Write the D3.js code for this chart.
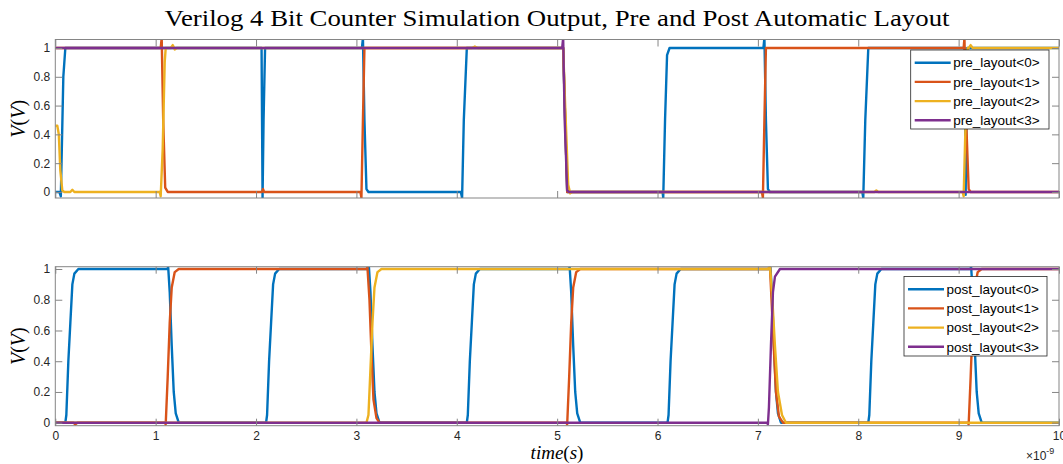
<!DOCTYPE html>
<html>
<head>
<meta charset="utf-8">
<script src="https://cdn.jsdelivr.net/npm/d3@7"></script>
<style>
  body { margin: 0; background: #fff; }
  svg { display: block; }
</style>
</head>
<body>
<svg id="chart" width="1063" height="464"></svg>
<script>
// ---- data (time in ns, voltage in V) ----
const timeTicks = [0, 1, 2, 3, 4, 5, 6, 7, 8, 9, 10];
const voltTicks = [0, 0.2, 0.4, 0.6, 0.8, 1];
const voltTickLabels = ['0', '0.2', '0.4', '0.6', '0.8', '1'];

const preNames = ['pre_layout<0>', 'pre_layout<1>', 'pre_layout<2>', 'pre_layout<3>'];
const postNames = ['post_layout<0>', 'post_layout<1>', 'post_layout<2>', 'post_layout<3>'];

const pre0 = [[0, 0], [0.04, 0], [0.055, -0.03], [0.065, 0.3], [0.08, 0.8], [0.1, 1],
  [2.055, 1], [2.065, -0.04], [2.075, 0.5], [2.09, 1],
  [3.055, 1], [3.065, 1.07], [3.08, 0.5], [3.1, 0.02], [3.12, 0],
  [4.04, 0], [4.053, -0.04], [4.07, 0.5], [4.1, 1],
  [5.06, 1], [5.08, 0.5], [5.1, 0],
  [6.05, 0], [6.057, -0.04], [6.075, 0.5], [6.095, 0.95], [6.12, 1],
  [7.055, 1], [7.065, 1.07], [7.08, 0.5], [7.1, 0.02], [7.12, 0],
  [8.04, 0], [8.05, -0.04], [8.07, 0.5], [8.1, 1],
  [9.06, 1], [9.07, -0.02], [9.085, 1], [10, 1]];
const pre1 = [[0, 1], [1.05, 1], [1.06, 1.07], [1.075, 0.5], [1.095, 0.03], [1.12, 0],
  [2.06, 0], [2.07, 0.02], [2.08, 0],
  [3.04, 0], [3.05, -0.04], [3.065, 0.5], [3.08, 1],
  [5.06, 1], [5.08, 0.5], [5.1, 0],
  [7.04, 0], [7.05, -0.04], [7.065, 0.5], [7.08, 1],
  [9.05, 1], [9.058, 1.07], [9.075, 0.5], [9.1, 0.02], [9.12, 0], [10, 0]];
const pre2 = [[0, 0.46], [0.02, 0.46], [0.035, 0.4], [0.05, 0.15], [0.07, 0.01], [0.09, 0],
  [0.15, 0], [0.17, 0.015], [0.19, 0],
  [1.04, 0], [1.05, -0.03], [1.07, 0.3], [1.09, 0.9], [1.1, 1],
  [1.15, 1], [1.17, 1.02], [1.19, 0.99], [1.21, 1],
  [4.15, 1], [4.18, 1.01], [4.21, 1],
  [5.06, 1], [5.08, 0.6], [5.11, 0.05], [5.13, -0.01], [5.15, 0],
  [8.16, 0], [8.18, 0.01], [8.2, 0],
  [9.04, 0], [9.05, -0.03], [9.07, 0.5], [9.09, 1],
  [9.1, 1], [9.12, 1.02], [9.14, 1], [10, 1]];
const pre3 = [[0, 1], [5.05, 1], [5.06, 1.07], [5.075, 0.5], [5.1, 0.01], [5.12, 0], [10, 0]];

const post0 = [[0, 0], [0.1, 0], [0.11, 0.05], [0.13, 0.4], [0.15, 0.65], [0.17, 0.9], [0.19, 0.97], [0.23, 1],
  [1.11, 1], [1.125, 1.01], [1.14, 0.85], [1.16, 0.5], [1.18, 0.2], [1.2, 0.06], [1.23, 0],
  [2.1, 0], [2.11, 0.05], [2.13, 0.4], [2.15, 0.65], [2.17, 0.9], [2.19, 0.97], [2.23, 1],
  [3.11, 1], [3.125, 1.01], [3.14, 0.85], [3.16, 0.5], [3.18, 0.2], [3.2, 0.06], [3.23, 0],
  [4.1, 0], [4.11, 0.05], [4.13, 0.4], [4.15, 0.65], [4.17, 0.9], [4.19, 0.97], [4.23, 1],
  [5.11, 1], [5.125, 1.01], [5.14, 0.85], [5.16, 0.5], [5.18, 0.2], [5.2, 0.06], [5.23, 0],
  [6.1, 0], [6.11, 0.05], [6.13, 0.4], [6.15, 0.65], [6.17, 0.9], [6.19, 0.97], [6.23, 1],
  [7.11, 1], [7.125, 1.01], [7.14, 0.85], [7.16, 0.5], [7.18, 0.2], [7.2, 0.06], [7.23, 0],
  [8.1, 0], [8.11, 0.05], [8.13, 0.4], [8.15, 0.65], [8.17, 0.9], [8.19, 0.97], [8.23, 1],
  [9.11, 1], [9.125, 1.01], [9.14, 0.85], [9.16, 0.5], [9.18, 0.2], [9.2, 0.06], [9.23, 0], [10, 0]];
const post1 = [[0, 0], [0.18, 0], [0.2, -0.01], [0.22, 0],
  [1.09, 0], [1.1, -0.01], [1.12, 0.3], [1.14, 0.65], [1.16, 0.88], [1.19, 0.98], [1.23, 1],
  [3.1, 1], [3.11, 1.01], [3.13, 0.8], [3.15, 0.45], [3.17, 0.15], [3.2, 0.03], [3.23, 0],
  [5.09, 0], [5.1, -0.01], [5.12, 0.3], [5.14, 0.65], [5.16, 0.88], [5.19, 0.98], [5.23, 1],
  [7.11, 1], [7.12, 1.02], [7.15, 0.6], [7.18, 0.2], [7.21, 0.04], [7.25, 0],
  [9.09, 0], [9.1, -0.01], [9.12, 0.3], [9.14, 0.65], [9.16, 0.88], [9.19, 0.98], [9.23, 1], [10, 1]];
const post2 = [[0, 0], [3.1, 0], [3.12, 0.05], [3.14, 0.35], [3.16, 0.65], [3.18, 0.88], [3.21, 0.98], [3.25, 1],
  [7.1, 1], [7.12, 1.02], [7.14, 0.85], [7.17, 0.5], [7.2, 0.2], [7.24, 0.05], [7.28, 0], [10, 0]];
const post3 = [[0, 0], [7.09, 0], [7.1, -0.01], [7.11, 0.1], [7.13, 0.5], [7.15, 0.85], [7.17, 0.95], [7.22, 1], [10, 1]];

const preSeries = [pre0, pre1, pre2, pre3];
const postSeries = [post0, post1, post2, post3];

// ---- styling ----
const colors = ['#0072BD', '#D95319', '#EDB120', '#7E2F8E'];
const axisColor = '#262626';
const boxColor = '#858585';
const sansFont = '"Liberation Sans", Arial, sans-serif';
const serifFont = '"Liberation Serif", "DejaVu Serif", serif';

const svg = d3.select('#chart');
const left = 55.3, right = 1059;

const x = d3.scaleLinear().domain([0, 10]).range([left, right]);

svg.append('text')
  .attr('x', 557)
  .attr('y', 26)
  .attr('text-anchor', 'middle')
  .attr('textLength', 785)
  .attr('lengthAdjust', 'spacingAndGlyphs')
  .style('font-family', serifFont)
  .style('font-size', '24px')
  .style('fill', '#000')
  .text('Verilog 4 Bit Counter Simulation Output, Pre and Post Automatic Layout');

function drawPanel(id, series, names, top, bottom, yDomain, legendBox, showXLabels) {
  const y = d3.scaleLinear().domain(yDomain).range([bottom, top]);
  const g = svg.append('g');

  g.append('defs').append('clipPath').attr('id', 'clip-' + id)
    .append('rect')
    .attr('x', left).attr('y', top)
    .attr('width', right - left).attr('height', bottom - top);

  const line = d3.line()
    .x(d => x(d[0]))
    .y(d => y(d[1]));

  g.append('g')
    .attr('clip-path', `url(#clip-${id})`)
    .selectAll('path')
    .data(series)
    .join('path')
    .attr('d', line)
    .attr('fill', 'none')
    .attr('stroke', (d, i) => colors[i])
    .attr('stroke-width', 2.4)
    .attr('stroke-linejoin', 'round');

  // box
  g.append('rect')
    .attr('x', left).attr('y', top)
    .attr('width', right - left).attr('height', bottom - top)
    .attr('fill', 'none')
    .attr('stroke', boxColor)
    .attr('stroke-width', 1);

  const styleAxis = sel => {
    sel.select('.domain').remove();
    sel.selectAll('.tick line').attr('stroke', boxColor);
    sel.selectAll('.tick text')
      .style('font-family', sansFont)
      .style('font-size', '12px')
      .attr('fill', axisColor);
  };

  g.append('g')
    .attr('transform', `translate(${left},0)`)
    .call(d3.axisLeft(y).tickValues(voltTicks).tickSize(-7).tickPadding(5)
      .tickFormat((d, i) => voltTickLabels[i]))
    .call(styleAxis);

  g.append('g')
    .attr('transform', `translate(${right},0)`)
    .call(d3.axisRight(y).tickValues(voltTicks).tickSize(-7).tickFormat(''))
    .call(styleAxis);

  g.append('g')
    .attr('transform', `translate(0,${bottom})`)
    .call(d3.axisBottom(x).tickValues(timeTicks).tickSize(-7).tickPadding(6)
      .tickFormat(showXLabels ? d3.format('d') : ''))
    .call(styleAxis);

  g.append('g')
    .attr('transform', `translate(0,${top})`)
    .call(d3.axisTop(x).tickValues(timeTicks).tickSize(-7).tickFormat(''))
    .call(styleAxis);

  // y label V(V)
  const yl = g.append('text')
    .attr('transform', `translate(25,${(top + bottom) / 2}) rotate(-90)`)
    .attr('text-anchor', 'middle')
    .style('font-family', serifFont)
    .style('font-size', '20px')
    .attr('fill', '#000');
  yl.append('tspan').style('font-style', 'italic').text('V');
  yl.append('tspan').text('(');
  yl.append('tspan').style('font-style', 'italic').text('V');
  yl.append('tspan').text(')');

  // legend
  const lg = g.append('g');
  lg.append('rect')
    .attr('x', legendBox.x).attr('y', legendBox.y)
    .attr('width', legendBox.w).attr('height', legendBox.h)
    .attr('fill', '#fff')
    .attr('stroke', axisColor)
    .attr('stroke-width', 0.8);
  const rows = lg.selectAll('g.row')
    .data(names)
    .join('g')
    .attr('class', 'row')
    .attr('transform', (d, i) => `translate(${legendBox.x},${legendBox.y + 12.7 + i * 19.2})`);
  rows.append('line')
    .attr('x1', 4).attr('x2', 40)
    .attr('stroke', (d, i) => colors[i])
    .attr('stroke-width', 2.4);
  rows.append('text')
    .attr('x', 42.5)
    .attr('dy', '0.35em')
    .style('font-family', sansFont)
    .style('font-size', '13.5px')
    .attr('fill', '#000')
    .text(d => d);
}

drawPanel('pre', preSeries, preNames, 39.5, 198, [-0.042, 1.059],
  { x: 910.7, y: 50, w: 138.3, h: 79 }, false);
drawPanel('post', postSeries, postNames, 266.7, 425.7, [-0.0195, 1.015],
  { x: 904, y: 276.5, w: 143, h: 79.5 }, true);

// x label
const xl = svg.append('text')
  .attr('x', 557)
  .attr('y', 459)
  .attr('text-anchor', 'middle')
  .style('font-family', serifFont)
  .style('font-size', '19px')
  .attr('fill', '#000');
xl.append('tspan').style('font-style', 'italic').text('time');
xl.append('tspan').text('(');
xl.append('tspan').style('font-style', 'italic').text('s');
xl.append('tspan').text(')');

// exponent marker
const ex = svg.append('text')
  .attr('x', 1026)
  .attr('y', 460)
  .style('font-family', sansFont)
  .style('font-size', '12px')
  .attr('fill', axisColor);
ex.append('tspan').text('\u00d710');
ex.append('tspan').attr('dy', -6).style('font-size', '9px').text('-9');
</script>
</body>
</html>
